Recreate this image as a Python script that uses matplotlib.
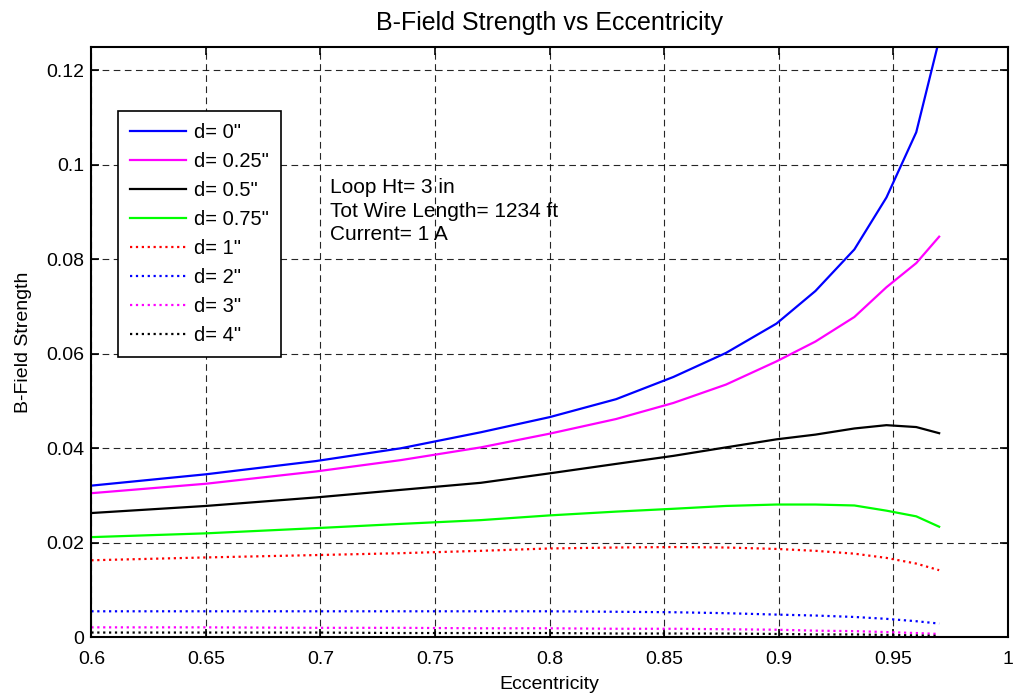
import numpy as np
import matplotlib
matplotlib.use('Agg')
import matplotlib.pyplot as plt

plt.rcParams['font.family'] = ['Liberation Sans', 'DejaVu Sans']

# ---- data ----
ecc = [0.600, 0.650, 0.698, 0.735, 0.770, 0.800, 0.829, 0.854,
       0.877, 0.899, 0.916, 0.933, 0.947, 0.960, 0.970]

b_d0 = [0.0321, 0.0345, 0.0373, 0.0400, 0.0434, 0.0466, 0.0504, 0.0551,
        0.0602, 0.0664, 0.0733, 0.0821, 0.0931, 0.1069, 0.1265]
b_d025 = [0.0305, 0.0325, 0.0351, 0.0375, 0.0402, 0.0431, 0.0462, 0.0496,
          0.0535, 0.0584, 0.0626, 0.0678, 0.0741, 0.0792, 0.0848]
b_d05 = [0.0263, 0.0278, 0.0296, 0.0312, 0.0327, 0.0347, 0.0367, 0.0384,
         0.0402, 0.0419, 0.0429, 0.0442, 0.0449, 0.0445, 0.0432]
b_d075 = [0.0212, 0.0220, 0.0231, 0.0240, 0.0248, 0.0258, 0.0266, 0.0272,
          0.0278, 0.0281, 0.0281, 0.0279, 0.0268, 0.0256, 0.0234]
b_d1 = [0.0163, 0.0169, 0.0174, 0.0178, 0.0183, 0.0188, 0.0190, 0.0191,
        0.0190, 0.0187, 0.0183, 0.0177, 0.0168, 0.0156, 0.0142]
b_d2 = [0.0055, 0.0055, 0.0055, 0.0055, 0.0055, 0.0055, 0.0054, 0.0053,
        0.0051, 0.0048, 0.0046, 0.0043, 0.0039, 0.0034, 0.0029]
b_d3 = [0.0021, 0.0021, 0.0020, 0.0020, 0.0019, 0.0019, 0.0018, 0.0018,
        0.0017, 0.0016, 0.0014, 0.0013, 0.0011, 0.0009, 0.0007]
b_d4 = [0.0010, 0.0010, 0.0010, 0.0009, 0.0009, 0.0009, 0.0008, 0.0008,
        0.0008, 0.0007, 0.0006, 0.0006, 0.0005, 0.0004, 0.0003]

labels = ['d= 0"', 'd= 0.25"', 'd= 0.5"', 'd= 0.75"',
          'd= 1"', 'd= 2"', 'd= 3"', 'd= 4"']
series = [b_d0, b_d025, b_d05, b_d075, b_d1, b_d2, b_d3, b_d4]
colors = ['#0000ff', '#ff00ff', '#000000', '#00ff00',
          '#ff0000', '#0000ff', '#ff00ff', '#000000']
styles = ['-', '-', '-', '-', ':', ':', ':', ':']

xticks = [0.6, 0.65, 0.7, 0.75, 0.8, 0.85, 0.9, 0.95, 1.0]
xticklabels = ['0.6', '0.65', '0.7', '0.75', '0.8', '0.85', '0.9', '0.95', '1']
yticks = [0, 0.02, 0.04, 0.06, 0.08, 0.1, 0.12]
yticklabels = ['0', '0.02', '0.04', '0.06', '0.08', '0.1', '0.12']

# ---- figure ----
fig = plt.figure(figsize=(10.15, 6.98), dpi=100)
ax = fig.add_axes([0.090, 0.087, 0.903, 0.846])

for y, c, ls, lab in zip(series, colors, styles, labels):
    ax.plot(ecc, y, linestyle=ls, color=c, linewidth=1.6, label=lab,
            dash_capstyle='butt')

ax.set_xlim(0.6, 1.0)
ax.set_ylim(0, 0.125)
ax.set_xticks(xticks)
ax.set_xticklabels(xticklabels)
ax.set_yticks(yticks)
ax.set_yticklabels(yticklabels)
ax.tick_params(direction='in', top=True, right=True, length=6, width=1.2,
               labelsize=14)
ax.tick_params(axis='x', pad=10)
ax.tick_params(axis='y', pad=5)
for s in ax.spines.values():
    s.set_linewidth(1.5)

ax.grid(True, color='black', linestyle=(0, (6, 4)), linewidth=0.8, alpha=0.85)

ax.set_title('B-Field Strength vs Eccentricity', fontsize=18, pad=12)
ax.set_xlabel('Eccentricity', fontsize=14, labelpad=6)
ax.set_ylabel('B-Field Strength', fontsize=14, labelpad=10)

ax.text(0.704, 0.0902, 'Loop Ht= 3 in\nTot Wire Length= 1234 ft\nCurrent= 1 A',
        fontsize=15, va='center', ha='left', linespacing=1.3)

leg = ax.legend(loc='upper left', bbox_to_anchor=(0.029, 0.892), fontsize=14.5,
                fancybox=False, framealpha=1, edgecolor='black',
                handlelength=2.8, handletextpad=0.4, labelspacing=0.5,
                borderpad=0.6, borderaxespad=0)
leg.get_frame().set_linewidth(1.2)

fig.savefig('out.png', dpi=100)
